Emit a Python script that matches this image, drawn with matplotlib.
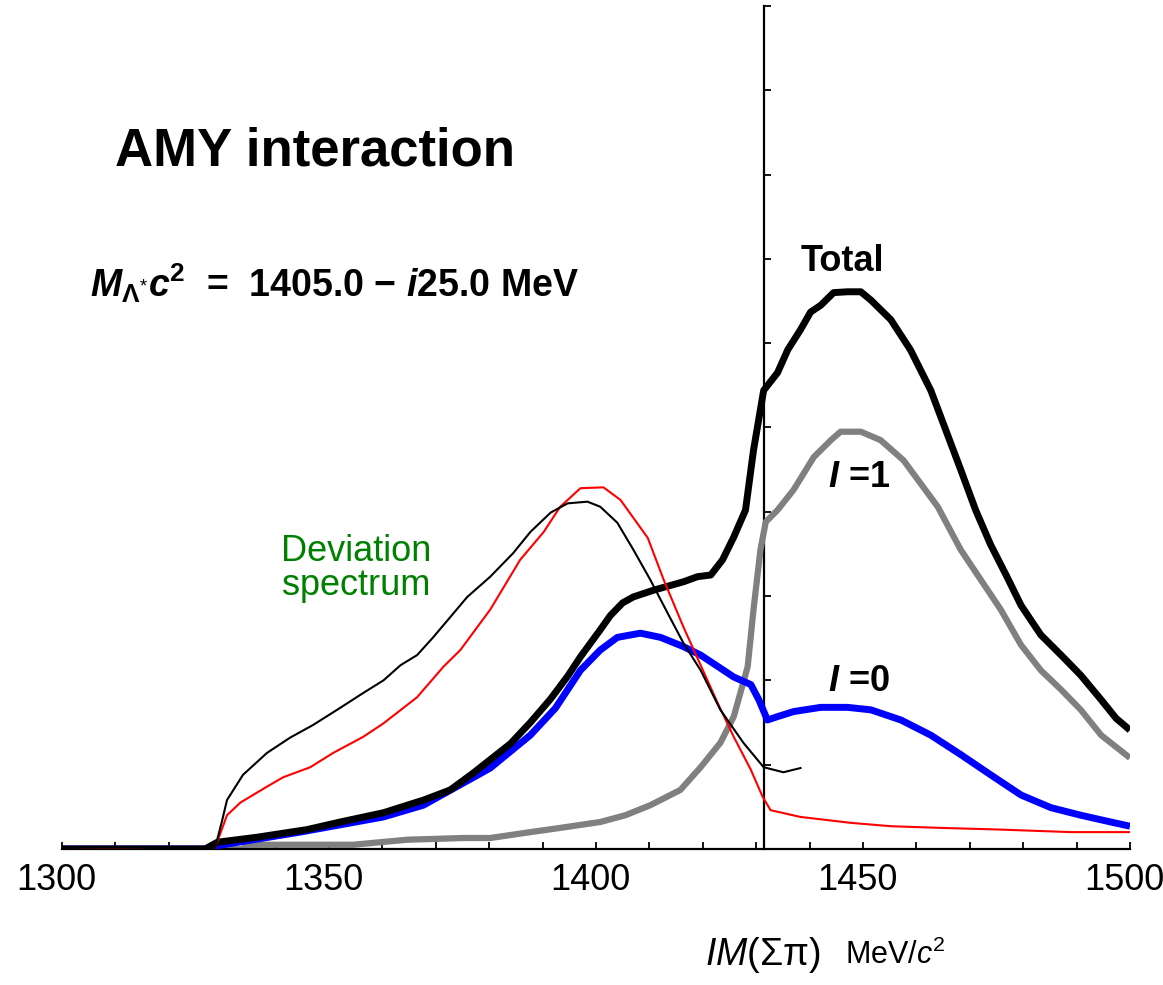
import numpy as np
import matplotlib.pyplot as plt
from matplotlib.ticker import MultipleLocator
from matplotlib.transforms import ScaledTranslation

plt.rcParams['font.family'] = ['Liberation Sans', 'DejaVu Sans']
plt.rcParams['mathtext.fontset'] = 'custom'
plt.rcParams['mathtext.rm'] = 'Liberation Sans'
plt.rcParams['mathtext.it'] = 'Liberation Sans:italic'
plt.rcParams['mathtext.bf'] = 'Liberation Sans:bold'
plt.rcParams['mathtext.bfit'] = 'Liberation Sans:bold:italic'

# total spectrum
total_e = [1300, 1326.8, 1329.1, 1336.6, 1345.9, 1352.1, 1360.2, 1367.7, 1372.7, 1377.0,
           1380.2, 1384.0, 1387.7, 1391.5, 1394.7, 1397.1, 1400.8, 1402.7, 1405.0, 1407.0,
           1410.8, 1416.4, 1419.0, 1421.5, 1423.7, 1425.8, 1428.0, 1429.5, 1431.4, 1434.0,
           1435.9, 1438.3, 1440.2, 1442.1, 1444.5, 1447.1, 1449.6, 1451.5, 1455.2, 1458.9,
           1462.7, 1465.5, 1468.3, 1471.1, 1473.9, 1476.8, 1479.6, 1483.3, 1487.1, 1490.8,
           1494.6, 1497.4, 1500]
total_v = [0, 0, 0.08, 0.14, 0.23, 0.32, 0.43, 0.58, 0.70, 0.90,
           1.06, 1.25, 1.50, 1.78, 2.05, 2.28, 2.60, 2.77, 2.92, 2.99,
           3.07, 3.17, 3.23, 3.25, 3.43, 3.70, 4.02, 4.73, 5.44, 5.65,
           5.92, 6.16, 6.37, 6.45, 6.60, 6.61, 6.61, 6.51, 6.28, 5.92,
           5.44, 4.97, 4.50, 4.02, 3.61, 3.25, 2.89, 2.54, 2.30, 2.06,
           1.77, 1.55, 1.41]

# I = 0
i0_e = [1300, 1326.8, 1329.1, 1344.6, 1360.2, 1367.7, 1380.2, 1387.7, 1392.4, 1397.1,
        1400.8, 1404.0, 1408.3, 1412.1, 1416.4, 1419.6, 1425.8, 1429.0, 1430.5, 1432.1,
        1434.0, 1437.0, 1442.1, 1447.1, 1451.5, 1457.1, 1462.7, 1468.3, 1473.9, 1479.6,
        1485.2, 1490.8, 1496.4, 1500]
i0_v = [0, 0, 0.04, 0.20, 0.38, 0.52, 0.96, 1.35, 1.67, 2.12,
        2.36, 2.51, 2.56, 2.51, 2.40, 2.30, 2.04, 1.95, 1.77, 1.53,
        1.57, 1.63, 1.68, 1.68, 1.65, 1.53, 1.35, 1.12, 0.88, 0.64,
        0.49, 0.40, 0.32, 0.27]

# I = 1
i1_e = [1300, 1333.9, 1334.5, 1354.5, 1364.7, 1375.2, 1380.2, 1387.7, 1393.3, 1400.8,
        1405.5, 1410.2, 1415.8, 1419.6, 1423.3, 1425.8, 1428.4, 1429.5, 1430.8, 1431.8,
        1434.0, 1437.0, 1440.8, 1444.0, 1445.8, 1449.6, 1453.3, 1457.6, 1464.0, 1468.3,
        1472.1, 1475.8, 1479.6, 1483.3, 1487.1, 1490.8, 1494.6, 1500]
i1_v = [0, 0, 0.05, 0.05, 0.11, 0.13, 0.13, 0.20, 0.25, 0.32,
        0.40, 0.52, 0.70, 0.97, 1.26, 1.57, 2.16, 2.84, 3.55, 3.88,
        4.02, 4.26, 4.65, 4.85, 4.95, 4.95, 4.85, 4.61, 4.06, 3.55,
        3.19, 2.84, 2.42, 2.12, 1.89, 1.65, 1.35, 1.08]

# deviation spectrum (thin black)
dev_e = [1300, 1326.8, 1327.7, 1328.7, 1330.0, 1330.9, 1332.1, 1333.9, 1338.4, 1342.7,
         1347.0, 1351.5, 1356.4, 1360.2, 1363.4, 1366.5, 1369.5, 1375.9, 1380.2, 1384.5,
         1387.7, 1391.5, 1394.7, 1398.4, 1400.8, 1404.0, 1407.0, 1410.2, 1413.4, 1416.4,
         1419.6, 1423.3, 1427.6, 1431.4, 1435.1, 1438.3]
dev_v = [0, -0.02, -0.04, 0.02, 0.34, 0.58, 0.70, 0.88, 1.14, 1.32,
         1.47, 1.65, 1.85, 2.00, 2.18, 2.30, 2.51, 2.99, 3.23, 3.51,
         3.76, 3.99, 4.10, 4.12, 4.06, 3.87, 3.55, 3.19, 2.80, 2.44,
         2.12, 1.65, 1.26, 0.97, 0.91, 0.96]

# thin red
red_e = [1300, 1326.8, 1327.7, 1328.7, 1330.9, 1333.4, 1338.4, 1341.4, 1346.5, 1350.8,
         1356.4, 1360.2, 1366.5, 1371.4, 1374.6, 1380.2, 1385.8, 1390.2, 1393.3, 1397.1,
         1401.4, 1404.6, 1409.7, 1412.7, 1416.4, 1419.6, 1422.8, 1425.8, 1429.0, 1431.2,
         1432.7, 1438.3, 1447.7, 1455.2, 1464.6, 1475.8, 1488.9, 1500]
red_v = [0, -0.02, -0.04, 0.02, 0.40, 0.55, 0.74, 0.85, 0.97, 1.14,
         1.33, 1.49, 1.80, 2.16, 2.36, 2.84, 3.43, 3.76, 4.06, 4.28,
         4.29, 4.14, 3.69, 3.19, 2.63, 2.18, 1.73, 1.33, 0.94, 0.62,
         0.46, 0.38, 0.31, 0.27, 0.25, 0.23, 0.20, 0.20]

threshold = 1431.5

fig = plt.figure(figsize=(11.63, 9.85), dpi=100)
ax = fig.add_axes([0.0533, 0.1381, 0.9183, 0.8558])

ax.plot(i1_e, i1_v, color='#808080', lw=4.5, solid_capstyle='butt', solid_joinstyle='round', zorder=2)
ax.plot(i0_e, i0_v, color='#0000ff', lw=5, solid_capstyle='butt', solid_joinstyle='round', zorder=3)
ax.plot(total_e, total_v, color='black', lw=5, solid_capstyle='butt', solid_joinstyle='round', zorder=4)
ax.plot(red_e, red_v, color='red', lw=1.5, zorder=5)
ax.plot(dev_e, dev_v, color='black', lw=1.5, zorder=6)

ax.set_xlim(1300, 1500)
ax.set_ylim(0, 10)

ax.spines['top'].set_visible(False)
ax.spines['right'].set_visible(False)
ax.spines['left'].set_position(('data', threshold))
ax.spines['left'].set_linewidth(1.6)
ax.spines['bottom'].set_linewidth(1.6)
ax.spines['left'].set_zorder(1)

ax.xaxis.set_major_locator(MultipleLocator(50))
ax.xaxis.set_minor_locator(MultipleLocator(10))
ax.yaxis.set_major_locator(MultipleLocator(1))
ax.tick_params(axis='x', which='both', direction='in', length=5, width=1.3,
               labelsize=26, pad=10)
ax.tick_params(axis='y', which='both', direction='in', length=5, width=1.3,
               labelleft=False)
shift = ScaledTranslation(-6 / 100, 0, fig.dpi_scale_trans)
for lab in ax.get_xticklabels():
    lab.set_transform(lab.get_transform() + shift)

ax.text(1347.4, 8.27, 'AMY interaction', fontsize=38, fontweight='bold',
        ha='center', va='center')
ax.text(1305.2, 6.71,
        r'$\mathbfit{M}_{\mathbf{\Lambda}^{*}}\mathbfit{c}^{\mathbf{2}}$  =  1405.0 − $\mathbfit{i}$25.0 MeV',
        fontsize=27, fontweight='bold', ha='left', va='center')
ax.text(1446.2, 6.97, 'Total', fontsize=26, fontweight='bold', ha='center', va='center')
ax.text(1449.2, 4.41, r'$\mathbfit{I}$ =1', fontsize=26, fontweight='bold',
        ha='center', va='center')
ax.text(1449.2, 1.99, r'$\mathbfit{I}$ =0', fontsize=26, fontweight='bold',
        ha='center', va='center')
ax.text(1355.1, 3.33, 'Deviation\nspectrum', fontsize=26, color='#008000',
        ha='center', va='center', linespacing=0.95)

fig.text(705 / 1163, 1 - 955 / 985, r'$\mathit{IM}$(Σπ)', fontsize=27,
         ha='left', va='center')
fig.text(845 / 1163, 1 - 955 / 985, r'MeV/$\mathit{c}^2$', fontsize=22,
         ha='left', va='center')

fig.savefig('out.png', dpi=100)
